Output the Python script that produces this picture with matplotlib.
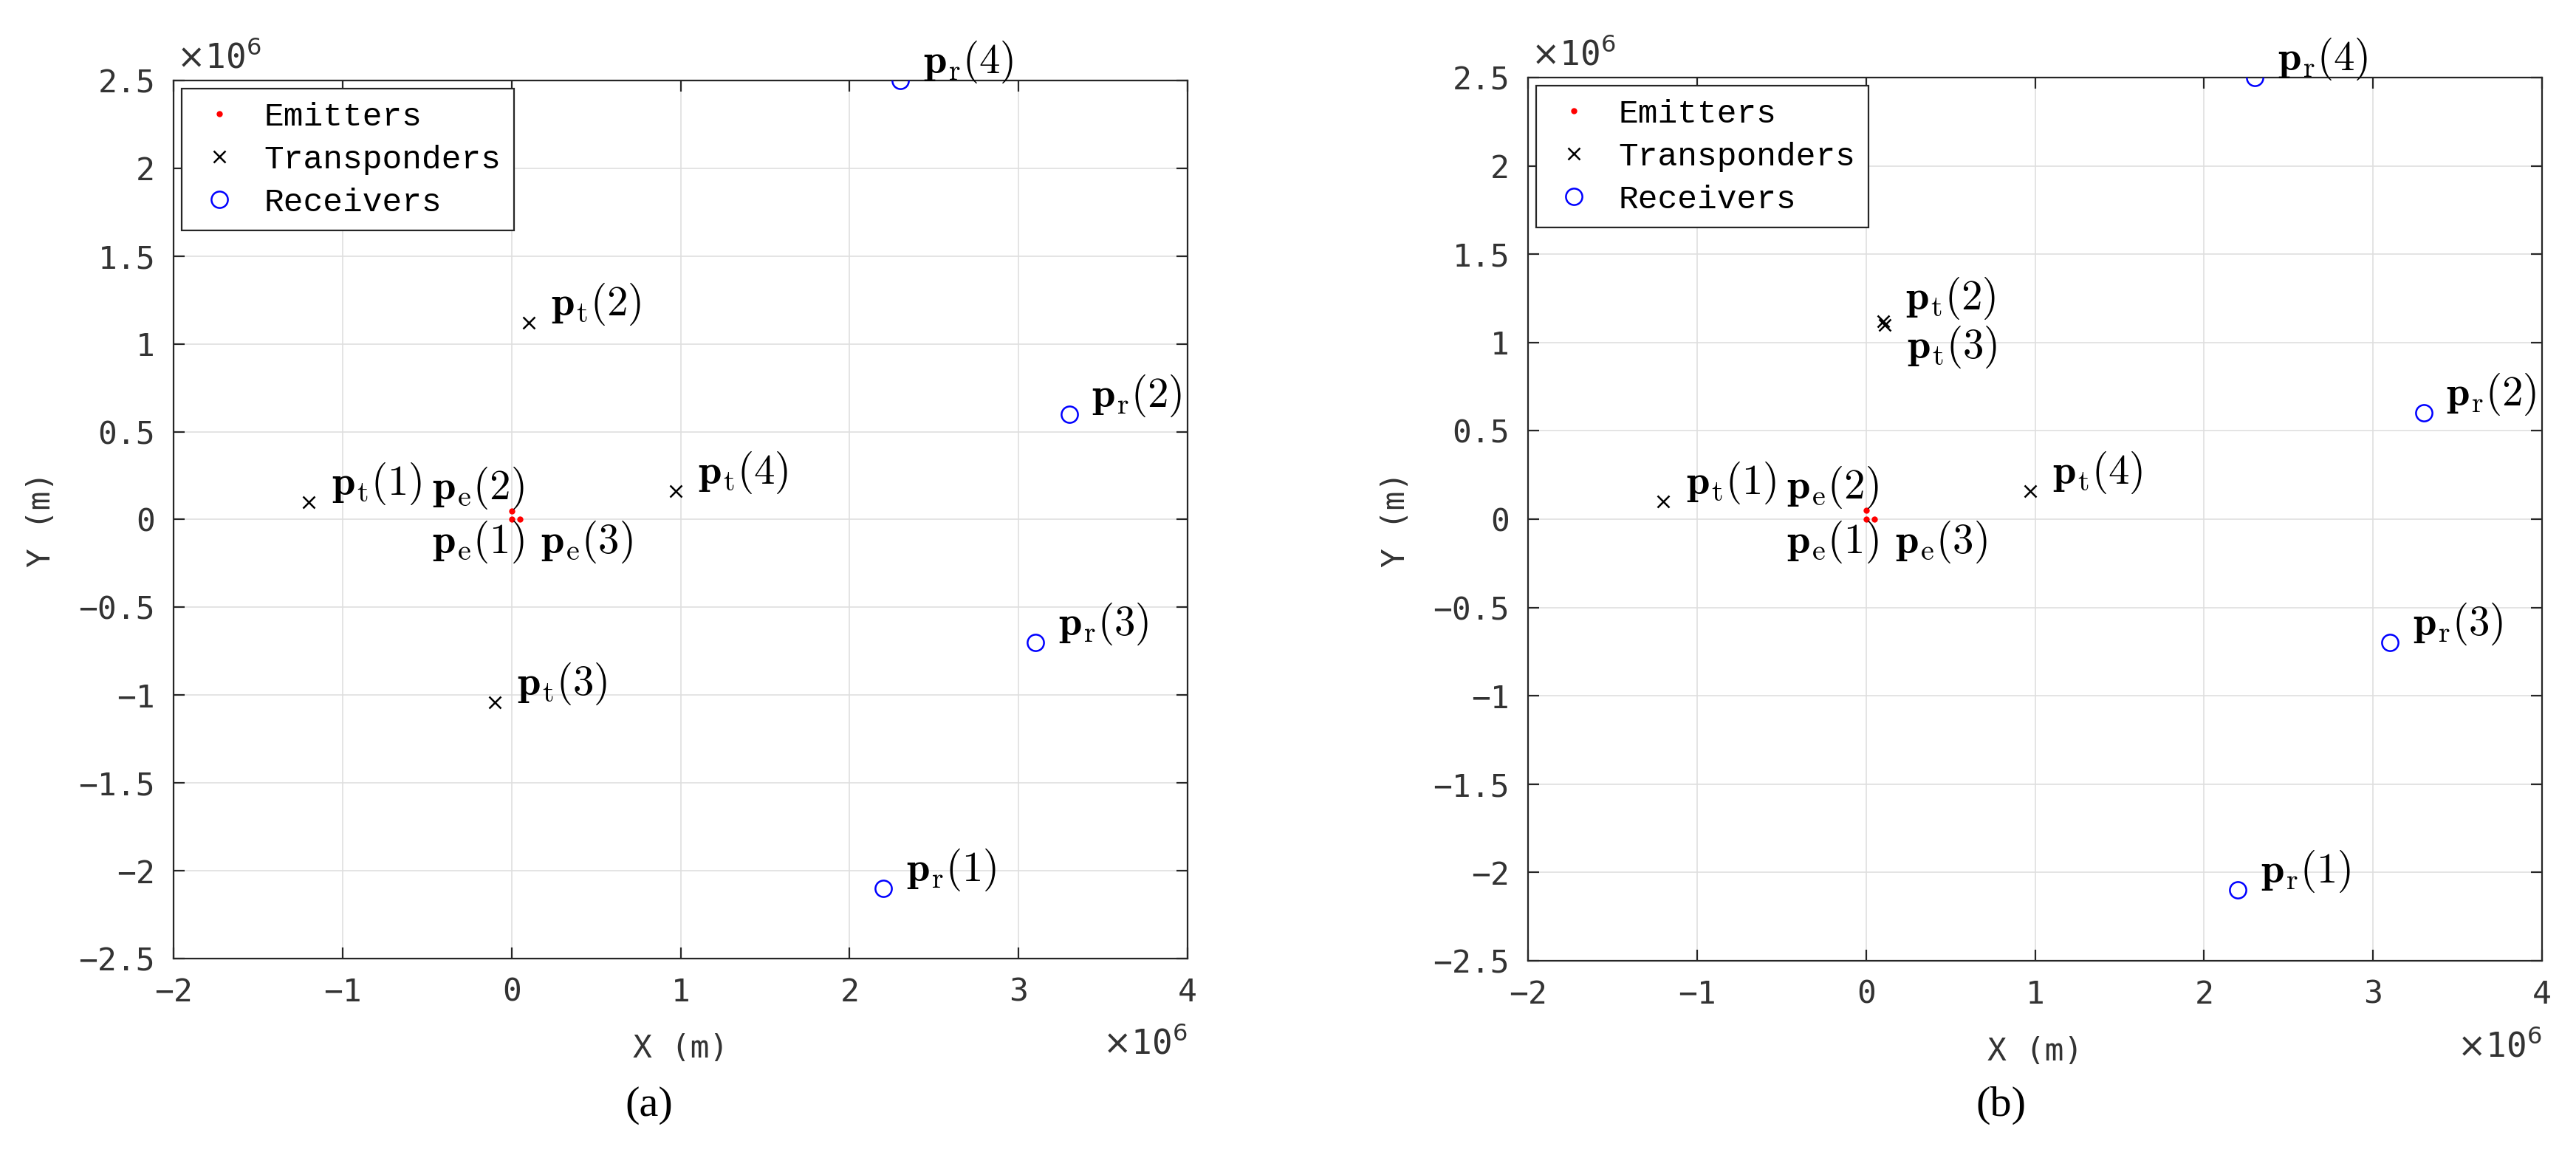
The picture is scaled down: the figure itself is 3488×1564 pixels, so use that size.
import matplotlib.pyplot as plt
import numpy as np
from matplotlib.lines import Line2D
from matplotlib.ticker import FuncFormatter, MultipleLocator

# positions in units of 1e6 m
emit_x = [0.0, 0.0, 0.05]
emit_y = [0.0, 0.05, 0.0]

trans_x_a = [-1.2, 0.1, -0.1, 0.97]
trans_y_a = [0.1, 1.12, -1.04, 0.16]
trans_x_b = [-1.2, 0.1, 0.11, 0.97]
trans_y_b = [0.1, 1.12, 1.10, 0.16]

recv_x = [2.2, 3.3, 3.1, 2.3]
recv_y = [-2.1, 0.6, -0.7, 2.5]

legend_names = ['Emitters', 'Transponders', 'Receivers']
panel_tags = ['(a)', '(b)']

INK = '#262626'
MONO = 'DejaVu Sans Mono'
LABEL_SIZE = 20.5
plt.rcParams['mathtext.fontset'] = 'dejavusans'


def lab(sub, i):
    return r'$\mathbf{p}_{\mathrm{%s}}(\mathbf{%d})$' % (sub, i)


def tick_fmt(v, _):
    s = f'{v:g}'
    if s == '-0':
        s = '0'
    return s.replace('-', '\u2212')


def draw_panel(ax, tx, ty, t_offsets):
    ax.plot(emit_x, emit_y, 'o', color='red', ms=3.0, mew=0, zorder=3)
    ax.plot(tx, ty, 'x', color='black', ms=6, mew=0.9, zorder=3)
    ax.plot(recv_x, recv_y, 'o', mfc='none', mec='blue', ms=8, mew=0.9, zorder=3)

    e_off = [(6, -11, 'right'), (6, 11, 'right'), (10, -11, 'left')]
    for i, (x, y) in enumerate(zip(emit_x, emit_y)):
        dx, dy, ha = e_off[i]
        ax.annotate(lab('e', i + 1), (x, y), xytext=(dx, dy),
                    textcoords='offset points', ha=ha, va='center',
                    fontsize=LABEL_SIZE, math_fontfamily='cm')
    for i, (x, y) in enumerate(zip(tx, ty)):
        dx, dy = t_offsets[i]
        ax.annotate(lab('t', i + 1), (x, y), xytext=(dx, dy),
                    textcoords='offset points', ha='left', va='center',
                    fontsize=LABEL_SIZE, math_fontfamily='cm')
    for i, (x, y) in enumerate(zip(recv_x, recv_y)):
        ax.annotate(lab('r', i + 1), (x, y), xytext=(11, 9),
                    textcoords='offset points', ha='left', va='center',
                    fontsize=LABEL_SIZE, math_fontfamily='cm')

    ax.set_xlim(-2, 4)
    ax.set_ylim(-2.5, 2.5)
    ax.xaxis.set_major_locator(MultipleLocator(1))
    ax.yaxis.set_major_locator(MultipleLocator(0.5))
    ax.xaxis.set_major_formatter(FuncFormatter(tick_fmt))
    ax.yaxis.set_major_formatter(FuncFormatter(tick_fmt))
    ax.tick_params(direction='in', top=True, right=True, length=5.4,
                   width=0.8, color=INK, labelcolor='#333333', labelsize=15.5, pad=9)
    for t in ax.get_xticklabels() + ax.get_yticklabels():
        t.set_family(MONO)
    for sp in ax.spines.values():
        sp.set_linewidth(0.8)
        sp.set_color(INK)
    ax.grid(True, color='#dfdfdf', linewidth=0.6)
    ax.set_axisbelow(True)

    ax.set_xlabel('X (m)', family=MONO, fontsize=15.5, color='#333333')
    ax.set_ylabel('Y (m)', family=MONO, fontsize=15.5, color='#333333')
    ax.xaxis.set_label_coords(0.5, -0.085)
    ax.yaxis.set_label_coords(-0.115, 0.5)

    ax.text(1.0, -0.078, r'$\times$10$^{6}$', transform=ax.transAxes, ha='right',
            va='top', family=MONO, fontsize=16.5, color='#333333')
    ax.text(0.003, 1.006, r'$\times$10$^{6}$', transform=ax.transAxes, ha='left',
            va='bottom', family=MONO, fontsize=16.5, color='#333333')

    handles = [
        Line2D([], [], ls='none', marker='o', color='red', ms=3.0, mew=0),
        Line2D([], [], ls='none', marker='x', color='black', ms=6, mew=0.9),
        Line2D([], [], ls='none', marker='o', mfc='none', mec='blue', ms=8, mew=0.9),
    ]
    leg = ax.legend(handles, legend_names, loc='upper left',
                    prop={'family': 'Liberation Mono', 'size': 16},
                    fancybox=False, framealpha=1, edgecolor=INK,
                    borderaxespad=0.25, borderpad=0.4, labelspacing=0.38,
                    handlelength=1.5, handletextpad=0.6)
    leg.get_frame().set_linewidth(0.8)


fig = plt.figure(figsize=(17.44, 7.82), dpi=200)
ax_a = fig.add_axes([0.0674, 0.1701, 0.3936, 0.7602])
ax_b = fig.add_axes([0.5932, 0.1682, 0.3936, 0.7647])

draw_panel(ax_a, trans_x_a, trans_y_a, [(11, 9), (11, 9), (11, 9), (11, 9)])
draw_panel(ax_b, trans_x_b, trans_y_b, [(11, 9), (11, 11), (11, -11), (11, 9)])

fig.text(879 / 3488, 1 - 1497 / 1564, panel_tags[0], family='Liberation Serif',
         fontsize=21, ha='center', va='center')
fig.text(2709 / 3488, 1 - 1497 / 1564, panel_tags[1], family='Liberation Serif',
         fontsize=21, ha='center', va='center')

fig.savefig('out.png', dpi=200)
